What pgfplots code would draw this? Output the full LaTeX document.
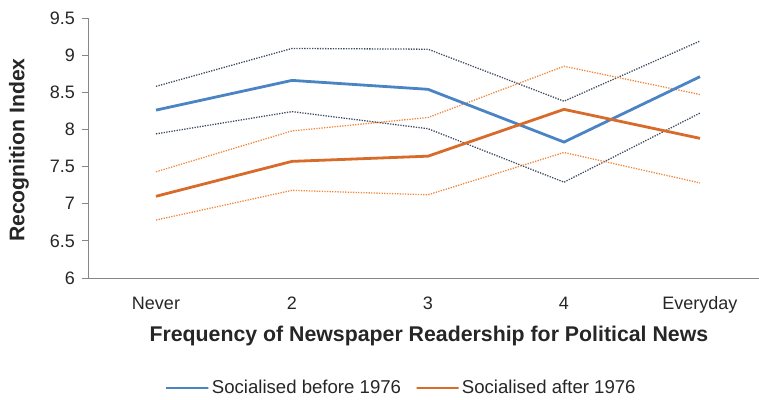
\documentclass[border=0pt]{standalone}
\usepackage{pgfplots}
\pgfplotsset{compat=1.18}
\usepackage{fontspec}
\setmainfont{Liberation Sans}
\definecolor{bluesolid}{HTML}{4A84C4}
\definecolor{orangesolid}{HTML}{D86A2A}
\definecolor{bluedot}{HTML}{3E4B5E}
\definecolor{orangedot}{HTML}{F0873C}
\definecolor{axisgray}{HTML}{868686}
\begin{document}
\begin{tikzpicture}
\useasboundingbox (-88pt,-121pt) rectangle (671pt,278pt);
\begin{axis}[
  scale only axis,
  width=671pt, height=260pt,
  xmin=-0.5, xmax=4.434,
  ymin=6, ymax=9.5,
  axis x line*=bottom, axis y line*=left,
  axis line style={axisgray, line width=0.8pt},
  xtick={0,1,2,3,4},
  xticklabels={Never,2,3,4,Everyday},
  minor xtick={-0.5,0.5,1.5,2.5,3.5},
  ytick={6,6.5,7,7.5,8,8.5,9,9.5},
  tick align=outside,
  major tick length=6pt, minor tick length=6pt,
  xtick style={draw=none},
  minor x tick style={axisgray, line width=0.8pt},
  ytick style={axisgray, line width=0.8pt},
  /pgf/number format/assume math mode=true,
  tick label style={font=\fontsize{18}{20}\selectfont, text=black!85},
  xticklabel style={anchor=base, yshift=-25pt},
  yticklabel style={anchor=east, xshift=-3.5pt},
  xlabel={\textbf{Frequency of Newspaper Readership for Political News}},
  xlabel style={font=\fontsize{21.3}{23}\selectfont, text=black!85, at={(axis description cs:0.508,-0.246)}, anchor=base},
  ylabel={\textbf{Recognition Index}},
  ylabel style={font=\fontsize{21.2}{23}\selectfont, text=black!85, at={(axis description cs:-0.1028,0.492)}, anchor=center, rotate=0},
  legend style={draw=none, fill=none, at={(axis description cs:0.467,-0.423)}, anchor=center, font=\fontsize{18.6}{20}\selectfont, text=black!85, /tikz/every even column/.append style={column sep=12pt}},
  legend columns=2,
  legend image code/.code={\draw[#1] (0pt,0pt) -- (37pt,0pt); \path (0pt,0pt) rectangle (42pt,0pt);},
]
\addplot[bluedot, line width=1.3pt, dash pattern=on 1.3pt off 1.3pt, forget plot] coordinates {(0,8.58) (1,9.09) (2,9.08) (3,8.38) (4,9.19)};
\addplot[bluedot, line width=1.3pt, dash pattern=on 1.3pt off 1.3pt, forget plot] coordinates {(0,7.94) (1,8.24) (2,8.01) (3,7.29) (4,8.22)};
\addplot[orangedot, line width=1.3pt, dash pattern=on 1.3pt off 1.3pt, forget plot] coordinates {(0,7.43) (1,7.98) (2,8.16) (3,8.85) (4,8.47)};
\addplot[orangedot, line width=1.3pt, dash pattern=on 1.3pt off 1.3pt, forget plot] coordinates {(0,6.78) (1,7.18) (2,7.12) (3,7.69) (4,7.28)};
\addplot[bluesolid, line width=2.8pt] coordinates {(0,8.26) (1,8.66) (2,8.54) (3,7.83) (4,8.71)};
\addlegendentry{Socialised before 1976}
\addplot[orangesolid, line width=2.8pt] coordinates {(0,7.10) (1,7.57) (2,7.64) (3,8.27) (4,7.88)};
\addlegendentry{Socialised after 1976}
\end{axis}
\end{tikzpicture}
\end{document}
